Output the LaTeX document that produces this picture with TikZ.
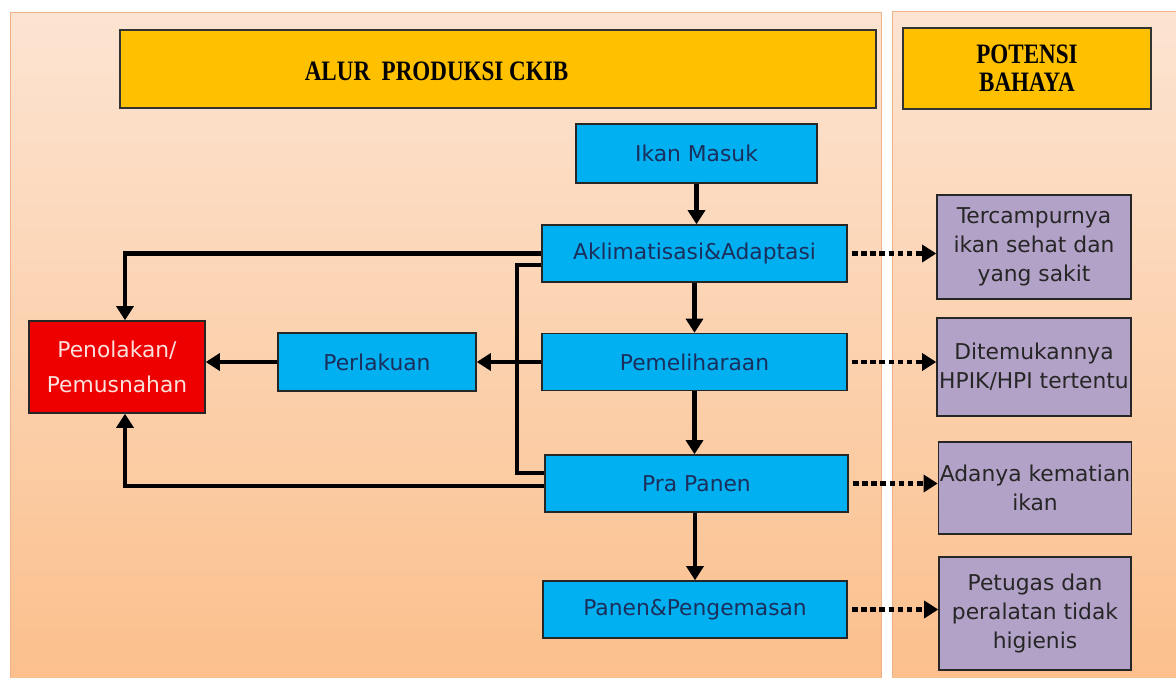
\documentclass[tikz,border=0pt]{standalone}
\usepackage{fontspec}
\setmainfont{DejaVu Sans}
\newfontfamily\headfont{Liberation Serif}
\usetikzlibrary{arrows.meta}

\definecolor{panetop}{HTML}{FCE4D2}
\definecolor{panebot}{HTML}{FBBF8B}
\definecolor{paneline}{HTML}{F0B088}
\definecolor{gold}{HTML}{FFC000}
\definecolor{sky}{HTML}{00B0F0}
\definecolor{navy}{HTML}{1B2F5C}
\definecolor{rejred}{HTML}{EE0000}
\definecolor{pinktext}{HTML}{FBE0DC}
\definecolor{lilac}{HTML}{B3A2C7}

\begin{document}
\begin{tikzpicture}[x=0.025cm,y=-0.025cm]
  \tikzstyle{pane}=[draw=paneline,line width=0.7pt,top color=panetop,bottom color=panebot]
  \tikzstyle{head}=[draw=black!80,fill=gold,line width=1pt,align=center,
    font=\headfont\bfseries\fontsize{20}{20}\selectfont]
  \tikzstyle{stage}=[draw=black!85,fill=sky,line width=1pt,text=navy,
    font=\fontsize{15.5}{18}\selectfont,minimum width=76.25mm,minimum height=14.25mm]
  \tikzstyle{hazard}=[draw=black!85,fill=lilac,line width=1pt,text=black!85,align=center,
    font=\fontsize{15.5}{20.5}\selectfont,minimum width=48.5mm,inner sep=1pt]
  \tikzstyle{flow}=[line width=3.2pt,-{Triangle[length=10pt,width=12pt]}]
  \tikzstyle{risk}=[line width=3.5pt,dash pattern=on 4pt off 2.5pt,shorten <=3pt,
    -{Triangle[length=10pt,width=12pt]}]
  \def\narrow#1{\scalebox{0.82}[1]{#1}}

  \useasboundingbox[fill=white] (0,0) rectangle (1176,677);
  \path[pane] (10,12) rectangle (881,690);
  \path[pane] (892,11) rectangle (1190,690);

  \node [head,minimum width=189mm,minimum height=19.5mm] (alur) at (498,69) {};
  \node [font=\headfont\bfseries\fontsize{20}{20}\selectfont] (alurtext) at (436.5,71)
    {\narrow{ALUR\ \ PRODUKSI CKIB}};
  \node [head,minimum width=62mm,minimum height=20.25mm] (potensi) at (1027,68.5)
    {\narrow{POTENSI}\\\narrow{BAHAYA}};

  \node [stage,minimum width=60.25mm,minimum height=14.75mm] (ikan) at (696.5,153.5) {Ikan Masuk};
  \node [stage] (aklim) at (694.5,253.5) {Aklimatisasi\&Adaptasi};
  \node [stage] (pelihara) at (694.5,362) {Pemeliharaan};
  \node [stage,minimum width=75.75mm] (prapanen) at (696.5,483.5) {Pra Panen};
  \node [stage,minimum width=76mm] (panen) at (695,609.5) {Panen\&Pengemasan};
  \node [stage,minimum width=49.5mm,minimum height=14.5mm] (perlakuan) at (377,362) {Perlakuan};
  \node [draw=black!85,fill=rejred,line width=1pt,text=pinktext,align=center,
    font=\fontsize{15.5}{25}\selectfont,minimum width=44mm,minimum height=23mm]
    (tolak) at (117,367) {Penolakan/\\Pemusnahan};

  \node [hazard,minimum height=26mm] (campur) at (1034,247)
    {Tercampurnya\\ikan sehat dan\\yang sakit};
  \node [hazard,minimum height=24.5mm] (hpik) at (1034,367)
    {Ditemukannya\\HPIK/HPI tertentu};
  \node [hazard,minimum width=48mm,minimum height=23mm] (mati) at (1035,488)
    {Adanya kematian\\ikan};
  \node [hazard,minimum width=48mm,minimum height=28.25mm] (higien) at (1035,613.5)
    {Petugas dan\\peralatan tidak\\higienis};

  \path [flow,draw] (ikan.south) -- (ikan.south |- aklim.north);
  \path [flow,draw] (aklim) -- (pelihara);
  \path [flow,draw] (pelihara) -- (pelihara |- prapanen.north);
  \path [flow,draw] (prapanen.south -| panen) -- (panen);

  \coordinate (rejtop) at (125,253.5);
  \coordinate (rejbot) at (125,486);
  \coordinate (brtop) at (517,265);
  \coordinate (brbot) at (517,473);
  \path [flow,draw] (aklim.west) -- (rejtop) -- (rejtop |- tolak.north);
  \path [flow,draw] (prapanen.west |- rejbot) -- (rejbot) -- (rejbot |- tolak.south);
  \path [line width=3.2pt,draw] (aklim.west |- brtop) -- (brtop) -- (brbot) -- (prapanen.west |- brbot);
  \path [flow,draw] (pelihara.west) -- (perlakuan.east);
  \path [flow,draw] (perlakuan.west) -- (perlakuan.west -| tolak.east);

  \path [risk,draw] (aklim.east) -- (aklim.east -| campur.west);
  \path [risk,draw] (pelihara.east) -- (pelihara.east -| hpik.west);
  \path [risk,draw] (prapanen.east) -- (prapanen.east -| mati.west);
  \path [risk,draw] (panen.east) -- (panen.east -| higien.west);
\end{tikzpicture}
\end{document}
